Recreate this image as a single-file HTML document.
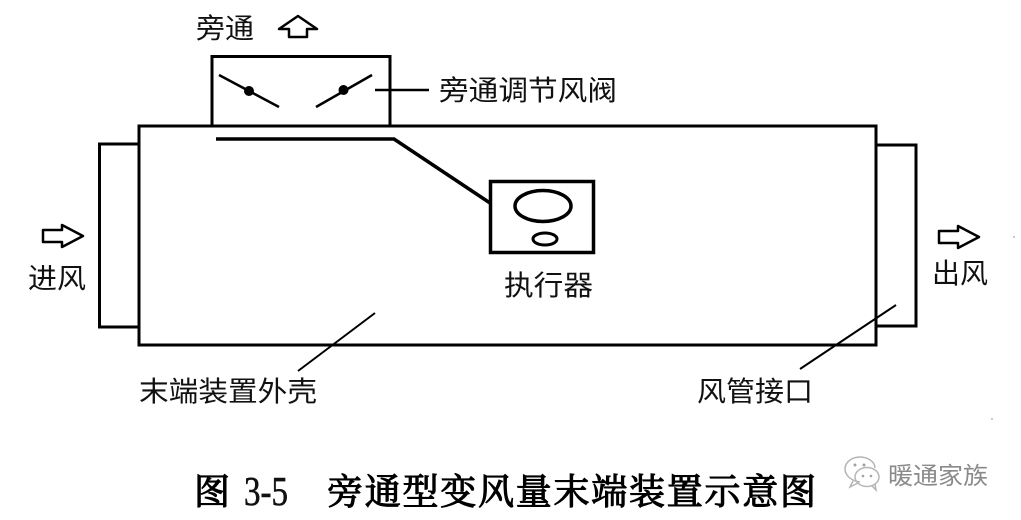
<!DOCTYPE html>
<html>
<head>
<meta charset="utf-8">
<style>
html,body{margin:0;padding:0;background:#fff;width:1021px;height:520px;overflow:hidden}
svg{display:block}
text{font-family:"Liberation Sans","Noto Sans CJK SC",sans-serif;fill:#111;font-size:28px}
.cap{font-family:"Liberation Serif","Noto Serif CJK SC",serif;font-size:36px;font-weight:400;fill:#000;stroke:#000;stroke-width:1.1px}
.num{font-family:"Liberation Serif",serif;font-size:41px;font-weight:400;fill:#111;stroke:#111;stroke-width:.6px}
.wm{font-size:24px;fill:#8a8a8a}
</style>
</head>
<body>
<svg width="1021" height="520" viewBox="0 0 1021 520" xmlns="http://www.w3.org/2000/svg">
<g fill="none" stroke="#000" stroke-width="3">
  <rect x="139" y="126" width="737" height="219"/>
  <path d="M139 144H99.500V327H139"/>
  <path d="M876 145H916V326H876"/>
  <path d="M212 125V56.500H390V125"/>
  <path d="M216 139H394L490 203" stroke-width="3.500"/>
  <rect x="490.500" y="181.500" width="103" height="71" stroke-width="3.500"/>
  <ellipse cx="543" cy="206" rx="28" ry="15.500" stroke-width="3.500"/>
  <ellipse cx="545" cy="239" rx="12" ry="6" stroke-width="3"/>
  <path d="M219 75L279 107M316 107L372 75" stroke-width="2.500"/>
  <path d="M375 90H429" stroke-width="2.500"/>
  <path d="M375 313L298 371M896 305L800 369" stroke-width="2"/>
  <path d="M43 230H62V225L83 236L62 247V242H43Z" stroke-width="2.500" stroke-linejoin="round"/>
  <path d="M939 231H958V226L979 237L958 248V243H939Z" stroke-width="2.500" stroke-linejoin="round"/>
  <path d="M279 29L298 16L317 29H307V37H289V29Z" stroke-width="2.500" stroke-linejoin="round"/>
</g>
<circle cx="249" cy="91" r="5" fill="#000"/>
<circle cx="343.500" cy="90" r="5" fill="#000"/>

<text x="196" y="38" textLength="58" lengthAdjust="spacingAndGlyphs">旁通</text>
<text x="439" y="100" textLength="178" lengthAdjust="spacingAndGlyphs">旁通调节风阀</text>
<text x="504" y="295" textLength="89" lengthAdjust="spacingAndGlyphs">执行器</text>
<text x="28" y="288" textLength="58" lengthAdjust="spacingAndGlyphs">进风</text>
<text x="932" y="283" textLength="56" lengthAdjust="spacingAndGlyphs">出风</text>
<text x="139" y="401" textLength="178" lengthAdjust="spacingAndGlyphs">末端装置外壳</text>
<text x="697" y="401" textLength="116" lengthAdjust="spacingAndGlyphs">风管接口</text>

<text class="cap" x="194" y="504" textLength="36" lengthAdjust="spacingAndGlyphs">图</text>
<text class="num" x="244" y="505" textLength="44" lengthAdjust="spacingAndGlyphs">3-5</text>
<text class="cap" x="327" y="504" textLength="489" lengthAdjust="spacing">旁通型变风量末端装置示意图</text>

<g fill="none" stroke="#b5b5b5" stroke-width="1.500">
  <path d="M860 482C851 481 845 475 845 469C845 462 852 457 860 457C868 457 875 462 875 468" />
  <path d="M853 481L850 487L858 483"/>
  <ellipse cx="867" cy="477" rx="12" ry="9.500"/>
  <path d="M872 486L876 490L875 484"/>
</g>
<g fill="#a0a0a0">
  <circle cx="855" cy="465" r="1.500"/><circle cx="864" cy="465" r="1.500"/>
  <circle cx="863" cy="476" r="1.300"/><circle cx="871" cy="476" r="1.300"/>
</g>
<text class="wm" x="888" y="484" textLength="100" lengthAdjust="spacingAndGlyphs">暖通家族</text>

<circle cx="1014" cy="237" r="0.700" fill="#777"/>
<circle cx="992" cy="419" r="0.700" fill="#777"/>
</svg>
</body>
</html>
